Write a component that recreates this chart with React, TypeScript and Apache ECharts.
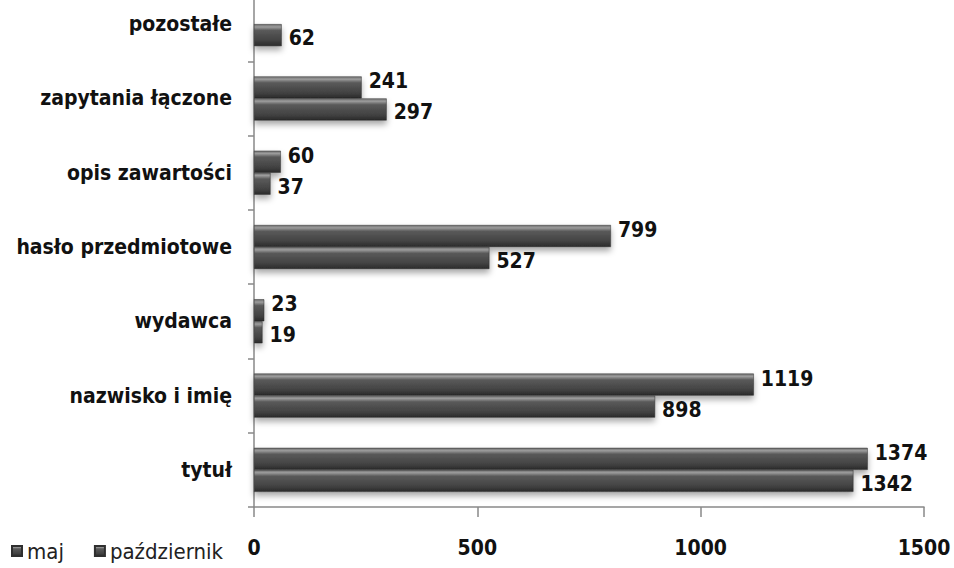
import React, { useEffect, useRef } from "react";
import * as echarts from "echarts";

const categories = [
  "tytuł",
  "nazwisko i imię",
  "wydawca",
  "hasło przedmiotowe",
  "opis zawartości",
  "zapytania łączone",
  "pozostałe",
];
const maj = [1342, 898, 19, 527, 37, 297, 62];
const pazdziernik = [1374, 1119, 23, 799, 60, 241, null];
const xTicks = [0, 500, 1000, 1500];

const FONT = "'DejaVu Sans Condensed', 'Open Sans', sans-serif";

const barGradient = () =>
  new echarts.graphic.LinearGradient(0, 0, 0, 1, [
    { offset: 0, color: "#6e6e6e" },
    { offset: 0.12, color: "#9c9c9c" },
    { offset: 0.28, color: "#5a5a5a" },
    { offset: 0.75, color: "#424242" },
    { offset: 1, color: "#2a2a2a" },
  ]);

export default function App() {
  const ref = useRef<HTMLDivElement>(null);
  useEffect(() => {
    if (!ref.current) return;
    const chart = echarts.init(ref.current, null, { renderer: "svg" });
    const labelBase = {
      show: true,
      position: "right",
      distance: 7,
      color: "#111",
      fontFamily: FONT,
      fontWeight: "bold",
      fontSize: 21,
    };
    const itemStyle = {
      color: barGradient(),
      borderColor: "#2f2f2f",
      borderWidth: 0.5,
      shadowColor: "rgba(0,0,0,0.35)",
      shadowBlur: 6,
      shadowOffsetY: 4,
    };
    chart.setOption({
      animation: false,
      backgroundColor: "#ffffff",
      grid: {
        left: 254,
        right: 30,
        top: -13,
        height: 520,
        containLabel: false,
        outerBoundsMode: "none",
      },
      legend: {
        data: ["maj", "październik"],
        left: 6,
        top: 535,
        itemWidth: 10,
        itemHeight: 10,
        itemGap: 30,
        icon: "rect",
        textStyle: { fontFamily: FONT, fontSize: 22, color: "#222" },
      },
      xAxis: {
        type: "value",
        min: xTicks[0],
        max: xTicks[xTicks.length - 1],
        interval: 500,
        axisLine: { show: true, lineStyle: { color: "#888", width: 1.5 } },
        axisTick: { show: true, length: 10, inside: false, lineStyle: { color: "#888", width: 1.5 } },
        splitLine: { show: false },
        axisLabel: {
          margin: 30,
          color: "#111",
          fontFamily: FONT,
          fontWeight: "bold",
          fontSize: 21,
          formatter: (v: number) => String(v),
        },
      },
      yAxis: {
        type: "category",
        data: categories,
        axisLine: { show: true, lineStyle: { color: "#888", width: 1.5 } },
        axisTick: { show: true, length: 6, lineStyle: { color: "#888", width: 1.5 } },
        axisLabel: {
          margin: 22,
          color: "#111",
          fontFamily: FONT,
          fontWeight: "bold",
          fontSize: 21,
          padding: [5, 0, 0, 0],
        },
      },
      series: [
        {
          name: "październik",
          type: "bar",
          data: pazdziernik,
          barWidth: 22,
          barGap: "0%",
          itemStyle,
          label: { ...labelBase, offset: [0, -6] },
        },
        {
          name: "maj",
          type: "bar",
          data: maj,
          barWidth: 22,
          barGap: "0%",
          itemStyle,
          label: { ...labelBase, offset: [0, 3] },
        },
      ],
    });
    return () => chart.dispose();
  }, []);
  return (
    <div
      ref={ref}
      style={{ position: "fixed", left: 0, top: 0, width: 954, height: 568 }}
    />
  );
}
